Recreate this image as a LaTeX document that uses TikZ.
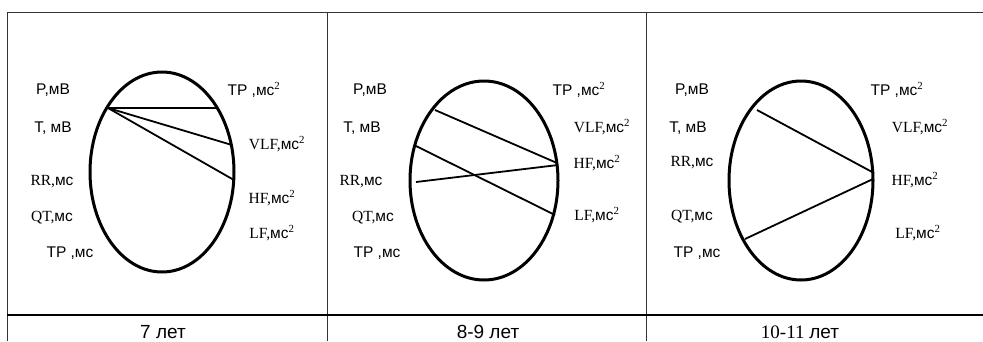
\documentclass[tikz,border=0pt]{standalone}
\usepackage{fontspec}
\setmainfont{Liberation Serif}
\newfontfamily\sansf{Liberation Sans}
\newcommand{\ms}{{\sansf мс}}
\newcommand{\sqr}{\textsuperscript{2}}
\begin{document}
\begin{tikzpicture}[x=1pt,y=-1pt,
  lbl/.style={font=\fontsize{15.5}{17}\selectfont, inner sep=0pt},
  agelabel/.style={font=\fontsize{19}{21}\selectfont, inner sep=0pt},
  oval/.style={line width=3pt},
  chord/.style={line width=1.8pt},
  rule/.style={line width=1pt, draw=black!80},
  thickrule/.style={line width=2pt}]
\useasboundingbox (0,0) rectangle (983,341);
\fill[white] (0,0) rectangle (983,341);

% table frame
\draw[rule] (7,12) -- (983,12);
\draw[rule] (7,12) -- (7,341);
\draw[rule] (327,12) -- (327,341);
\draw[rule] (646,12) -- (646,341);
\draw[thickrule] (7,315) -- (983,315);

% ---------- column 1 ----------
\draw[oval] (162,172) ellipse [x radius=72, y radius=100];
\coordinate (a1) at (108,108);
\coordinate (a2) at (217,108);
\coordinate (a3) at (232,145);
\coordinate (a4) at (234,180);
\draw[chord] (a1) -- (a2);
\draw[chord] (a1) -- (a3);
\draw[chord] (a1) -- (a4);
\node[lbl] (p1)  at (53,90)  {\sansf P,мВ};
\node[lbl] (t1)  at (53,128) {\sansf T, мВ};
\node[lbl] (rr1) at (52,182) {RR,\ms};
\node[lbl] (qt1) at (52,218) {QT,\ms};
\node[lbl] (tp1) at (70,253) {\sansf TP ,мс};
\node[lbl] (tq1) at (254,90)  {{\sansf TP ,мс}\sqr};
\node[lbl] (vl1) at (277,144) {VLF,\ms\sqr};
\node[lbl] (hf1) at (272,198) {HF,\ms\sqr};
\node[lbl] (lf1) at (272,233) {LF,\ms\sqr};
\node[agelabel] (c1) at (163,332) {\sansf 7 лет};

% ---------- column 2 ----------
\draw[oval] (484,180.5) ellipse [x radius=74, y radius=99.5];
\coordinate (b1) at (435,110);
\coordinate (b2) at (557,163);
\coordinate (b3) at (416,146);
\coordinate (b4) at (555,215);
\coordinate (b5) at (416,182);
\coordinate (b6) at (558,165);
\draw[chord] (b1) -- (b2);
\draw[chord] (b3) -- (b4);
\draw[chord] (b5) -- (b6);
\node[lbl] (p2)  at (370,90)  {\sansf P,мВ};
\node[lbl] (t2)  at (362,128) {\sansf T, мВ};
\node[lbl] (rr2) at (361,182) {RR,\ms};
\node[lbl] (qt2) at (373,218) {QT,\ms};
\node[lbl] (tp2) at (377,253) {\sansf TP ,мс};
\node[lbl] (tq2) at (579,90)  {{\sansf TP ,мс}\sqr};
\node[lbl] (vl2) at (602,127) {VLF,\ms\sqr};
\node[lbl] (hf2) at (597,163) {HF,\ms\sqr};
\node[lbl] (lf2) at (597,215) {LF,\ms\sqr};
\node[agelabel] (c2) at (488,332) {\sansf 8-9 лет};

% ---------- column 3 ----------
\draw[oval] (801,180.5) ellipse [x radius=72, y radius=99.5];
\coordinate (d1) at (757,110);
\coordinate (d2) at (874,173);
\coordinate (d3) at (745,239);
\coordinate (d4) at (873,179);
\draw[chord] (d1) -- (d2);
\draw[chord] (d3) -- (d4);
\node[lbl] (p3)  at (692,90)  {\sansf P,мВ};
\node[lbl] (t3)  at (688,128) {\sansf T, мВ};
\node[lbl] (rr3) at (692,163) {RR,\ms};
\node[lbl] (qt3) at (692,217) {QT,\ms};
\node[lbl] (tp3) at (697,253) {\sansf TP ,мс};
\node[lbl] (tq3) at (897,90)  {{\sansf TP ,мс}\sqr};
\node[lbl] (vl3) at (920,127) {VLF,\ms\sqr};
\node[lbl] (hf3) at (915,180) {HF,\ms\sqr};
\node[lbl] (lf3) at (918,233) {LF,\ms\sqr};
\node[agelabel] (c3) at (800,332) {10-11 {\sansf лет}};
\end{tikzpicture}
\end{document}
